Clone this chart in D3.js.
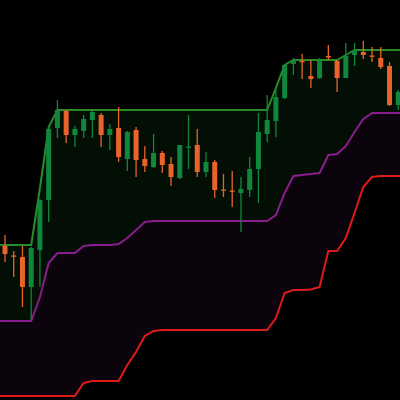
<!DOCTYPE html>
<html>
<head>
<meta charset="utf-8">
<script src="https://cdn.jsdelivr.net/npm/d3@7"></script>
<style>
  html, body { margin: 0; padding: 0; background: #000; }
  svg { display: block; }
</style>
</head>
<body>
<svg id="chart" width="400" height="400"></svg>
<script>
// Candle data (price units), index 0..45
const opens  = [154, 144.5, 143, 113, 150, 200, 272, 289, 265, 269, 280, 285, 265, 272, 241, 270, 241, 233, 247, 236, 222, 252.5, 255, 228, 238, 210.5, 209.5, 207, 210, 231, 266, 279, 302, 336, 339, 324, 322, 344, 339, 322, 345, 348, 344.5, 342, 334, 295];
const highs  = [165, 149, 154, 153, 201, 273, 300, 290, 274, 285, 289, 287, 276, 293, 269, 273, 254, 266, 249, 243, 255, 285, 271, 248, 240, 226, 229, 223, 243, 287, 305, 314, 336, 342, 346, 340, 342, 355, 340, 357, 357, 359, 353, 353, 338, 310];
const lows   = [138, 123, 93, 80, 113, 178, 262, 257, 253, 262, 262, 253, 250, 238, 229, 223, 228, 232, 227, 214, 221, 231, 223, 223, 202, 203, 193, 168, 203, 197, 258, 263, 301, 325, 321, 312, 321, 340, 308, 322, 334, 341, 338, 331, 294, 290];
const closes = [146, 143.5, 113, 152, 200, 271, 290, 265, 271, 281, 288, 265, 271, 243, 268, 240, 234, 247, 235, 223, 255, 253.5, 228, 238, 210, 209.5, 208.5, 211, 231, 268, 280, 303, 335, 340, 338, 321, 339, 342.5, 322, 344, 350, 345, 343.5, 333, 295, 308];

// Channel lines (price units), one value per candle
const upperLine  = [155, 155, 155, 155, 212, 273, 290, 290, 290, 290, 290, 290, 290, 290, 290, 290, 290, 290, 290, 290, 290, 290, 290, 290, 290, 290, 290, 290, 290, 290, 290, 312, 335, 340, 340, 340, 340, 340, 340, 345, 350, 350, 350, 350, 350, 350];
const middleLine = [79, 79, 79, 79, 103, 137, 147, 147, 147, 154, 155, 155, 155, 156, 162, 170, 178, 179, 179, 179, 179, 179, 179, 179, 179, 179, 179, 179, 179, 179, 179, 185, 207, 224, 225, 226, 227, 245, 246, 254, 268, 281, 287, 287, 287, 287];
const lowerLine  = [4, 4, 4, 4, 4, 4, 4, 4, 4, 17, 19, 19, 19, 19, 35, 48, 64, 69, 70, 70, 70, 70, 70, 70, 70, 70, 70, 70, 70, 70, 70, 82, 107, 110, 110, 110.5, 113, 149, 149, 162, 187, 213, 223, 224, 224, 224];

const W = 400, H = 400;
const svg = d3.select("#chart");
svg.append("rect").attr("width", W).attr("height", H).attr("fill", "#000");

const n = opens.length;
const xDomain = [-0.57, 45.2];
const x = d3.scaleLinear().domain(xDomain).range([0, W]);
const y = d3.scaleLinear().domain([0, 400]).range([H, 0]);

// extend line series to the chart edges
function edgeSeries(arr) {
  const pts = arr.map((v, i) => ({ i, v }));
  return [{ i: xDomain[0], v: arr[0] }, ...pts, { i: xDomain[1], v: arr[arr.length - 1] }];
}
const up = edgeSeries(upperLine), mid = edgeSeries(middleLine), low = edgeSeries(lowerLine);

// fills
const areaGreen = d3.area().x(d => x(d.i)).y0((d, k) => y(mid[k].v)).y1(d => y(d.v));
svg.append("path").datum(up).attr("d", areaGreen).attr("fill", "#030e04");
const areaPurple = d3.area().x(d => x(d.i)).y0((d, k) => y(low[k].v)).y1(d => y(d.v));
svg.append("path").datum(mid).attr("d", areaPurple).attr("fill", "#0b040c");

const line = d3.line().x(d => x(d.i)).y(d => y(d.v));
svg.append("path").datum(low).attr("d", line).attr("fill", "none").attr("stroke", "#e01a1a").attr("stroke-width", 2);
svg.append("path").datum(mid).attr("d", line).attr("fill", "none").attr("stroke", "#8b1c8e").attr("stroke-width", 2);
svg.append("path").datum(up).attr("d", line).attr("fill", "none").attr("stroke", "#2a8c25").attr("stroke-width", 2);

// candles
const candles = d3.range(n).map(i => ({ i, o: opens[i], h: highs[i], l: lows[i], c: closes[i] }));
const green = "#11873d", orange = "#e8642c";
const bodyW = 5;
const g = svg.append("g");
g.selectAll("line.wick").data(candles).join("line")
  .attr("class", "wick")
  .attr("x1", d => x(d.i)).attr("x2", d => x(d.i))
  .attr("y1", d => y(d.h)).attr("y2", d => y(d.l))
  .attr("stroke", d => d.c >= d.o ? green : orange)
  .attr("stroke-width", 1.3);
g.selectAll("rect.body").data(candles).join("rect")
  .attr("class", "body")
  .attr("x", d => x(d.i) - bodyW / 2)
  .attr("width", bodyW)
  .attr("y", d => y(Math.max(d.o, d.c)))
  .attr("height", d => Math.max(1.3, Math.abs(y(d.o) - y(d.c))))
  .attr("fill", d => d.c >= d.o ? green : orange);
</script>
</body>
</html>
